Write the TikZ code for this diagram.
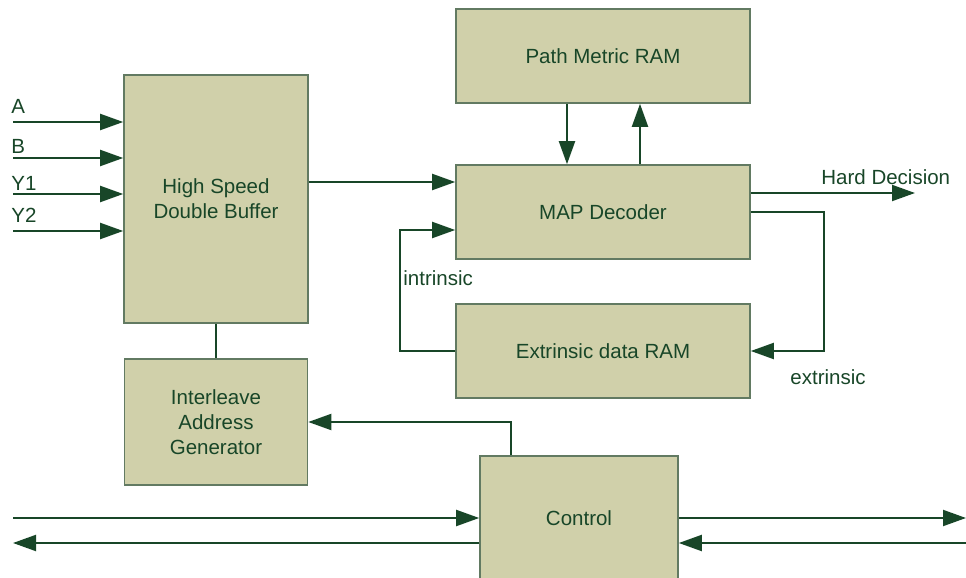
\documentclass[tikz,border=0pt]{standalone}
\usepackage{fontspec}
\setmainfont{Liberation Sans}
\usepackage{tikz}
\usetikzlibrary{arrows.meta}
\usepackage{xcolor}
\definecolor{ColA}{RGB}{208,208,170}
\definecolor{ColB}{RGB}{24,70,40}
\definecolor{ColC}{RGB}{98,122,98}
\tikzstyle{NodeBlock}=[rectangle,draw=ColC,fill=ColA,line width=.8pt,inner sep=0pt,
text=ColB,align=center,font=\fontsize{10.25}{12.5}\selectfont]
\tikzstyle{NodeLabel}=[inner sep=0pt,anchor=west,text=ColB,font=\fontsize{10.25}{12.5}\selectfont]
\tikzstyle{EdgeLine}=[ColB,line width=1pt]
\tikzstyle{EdgeArrow}=[EdgeLine,-{Triangle[length=11.5pt,width=8pt]}]
\begin{document}
\begin{tikzpicture}[x=.5pt,y=-.5pt]
        \useasboundingbox(0,0)rectangle(966,578);
        \node[NodeBlock,minimum width=92pt,minimum height=124pt](buf)at(216,199){High Speed\\Double Buffer};
        \node[NodeBlock,minimum width=91.5pt,minimum height=63pt](ilv)at(216,422){Interleave\\Address\\Generator};
        \node[NodeBlock,minimum width=147pt,minimum height=47pt](pmr)at(603,56){Path Metric RAM};
        \node[NodeBlock,minimum width=147pt,minimum height=47pt](map)at(603,212){MAP Decoder};
        \node[NodeBlock,minimum width=147pt,minimum height=47pt](ext)at(603,351){Extrinsic data RAM};
        \node[NodeBlock,minimum width=99pt,minimum height=62pt](ctl)at(579,518){Control};
        \node[NodeLabel](lA)at(11,106){A};
        \node[NodeLabel](lB)at(11,146){B};
        \node[NodeLabel](lYa)at(11,183){Y1};
        \node[NodeLabel](lYb)at(11,215){Y2};
        \node[NodeLabel](lHard)at(821,177){Hard Decision};
        \node[NodeLabel](lIntr)at(403,278){intrinsic};
        \node[NodeLabel](lExtr)at(790,377){extrinsic};
        \coordinate(iA)at(13,122);
        \coordinate(iB)at(13,158);
        \coordinate(iYa)at(13,194);
        \coordinate(iYb)at(13,231);
        \coordinate(oHard)at(915,193);
        \coordinate(oL)at(13,543);
        \coordinate(iL)at(13,518);
        \coordinate(oR)at(966,518);
        \coordinate(iR)at(966,543);
        \draw[EdgeArrow](iA)--(buf.west|-iA);
        \draw[EdgeArrow](iB)--(buf.west|-iB);
        \draw[EdgeArrow](iYa)--(buf.west|-iYa);
        \draw[EdgeArrow](iYb)--(buf.west|-iYb);
        \draw[EdgeArrow](buf.east|-0,182)--(map.west|-0,182);
        \draw[EdgeLine](buf.south)--(ilv.north);
        \draw[EdgeArrow](pmr.south-|567,0)--(map.north-|567,0);
        \draw[EdgeArrow](map.north-|640,0)--(pmr.south-|640,0);
        \draw[EdgeArrow](map.east|-oHard)--(oHard);
        \draw[EdgeArrow](map.east)-|(824,351)--(ext.east);
        \draw[EdgeArrow](ext.west)--(400,351)|-(map.west|-0,230);
        \draw[EdgeArrow](ctl.north-|511,0)|-(ilv.east);
        \draw[EdgeArrow](iL)--(ctl.west);
        \draw[EdgeArrow](ctl.west|-oL)--(oL);
        \draw[EdgeArrow](ctl.east)--(oR);
        \draw[EdgeArrow](iR)--(ctl.east|-iR);
    \end{tikzpicture}
\end{document}
